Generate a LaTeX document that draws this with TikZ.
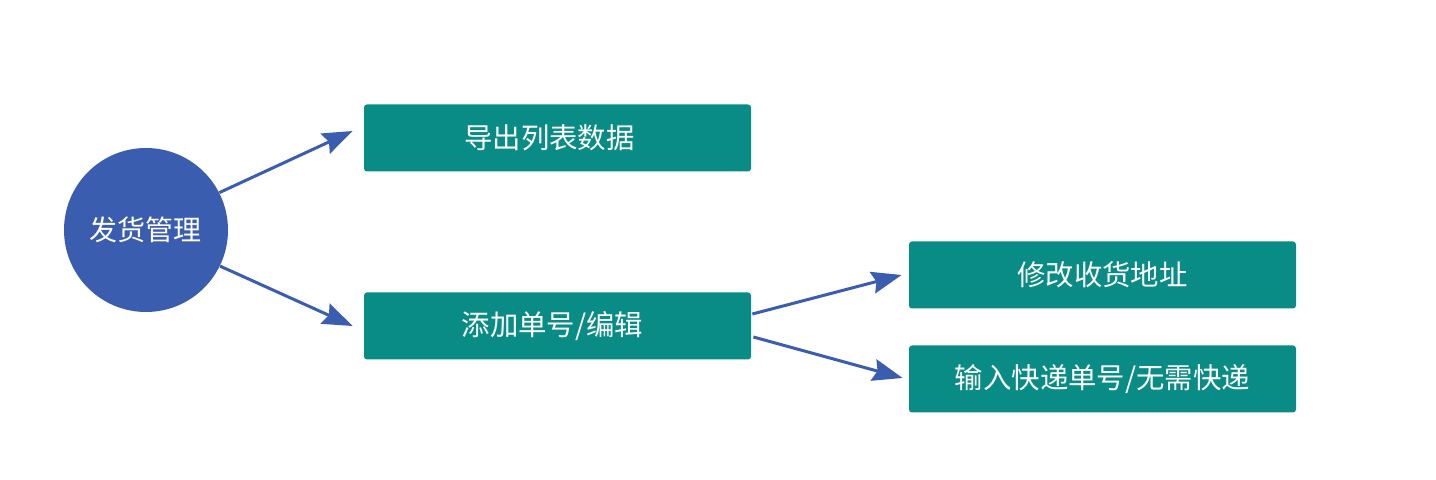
\documentclass[tikz,border=0pt]{standalone}
\usepackage{fontspec}
\newfontfamily\cjk{Noto Sans CJK SC}
\usetikzlibrary{arrows.meta,calc}
\definecolor{cblue}{HTML}{3A5DAF}
\definecolor{cteal}{HTML}{0A8C86}
\tikzset{
  hub/.style={circle, fill=cblue, draw=none, minimum size=82pt, inner sep=0pt, text=white, font=\cjk\fontsize{14}{16}\selectfont},
  box/.style={rectangle, rounded corners=1.5pt, fill=cteal, draw=none, minimum width=193.5pt, minimum height=33.5pt, inner sep=0pt, text=white, font=\cjk\fontsize{14.2}{16}\selectfont},
  arr/.style={draw=cblue, line width=1.5pt, -{Stealth[length=15pt,width=11pt,inset=2pt]}}
}
\begin{document}
\begin{tikzpicture}[x=0.5pt,y=-0.5pt]
\useasboundingbox (0,0) rectangle (1436,480);
\node[hub] (c) at (146,230) {发货管理};
\node[box] (b1) at (557.5,138) {导出列表数据\hspace*{8pt}};
\node[box] (b2) at (557.5,326) {添加单号/编辑\hspace*{5pt}};
\node[box] (b3) at (1102.5,275) {修改收货地址};
\node[box] (b4) at (1102.5,379) {输入快递单号/无需快递};
\coordinate (a1) at ($(b1.west)+(-11,-7)$);
\coordinate (a2) at ($(b2.west)+(-11,0)$);
\coordinate (a3) at ($(b3.west)+(-7,0)$);
\coordinate (a4) at ($(b4.west)+(-6,-1)$);
\draw[arr] (c.27) -- (a1);
\draw[arr] (c.-26) -- (a2);
\draw[arr] ($(b2.east)+(1,-12)$) -- (a3);
\draw[arr] ($(b2.east)+(2,11)$) -- (a4);
\end{tikzpicture}
\end{document}
